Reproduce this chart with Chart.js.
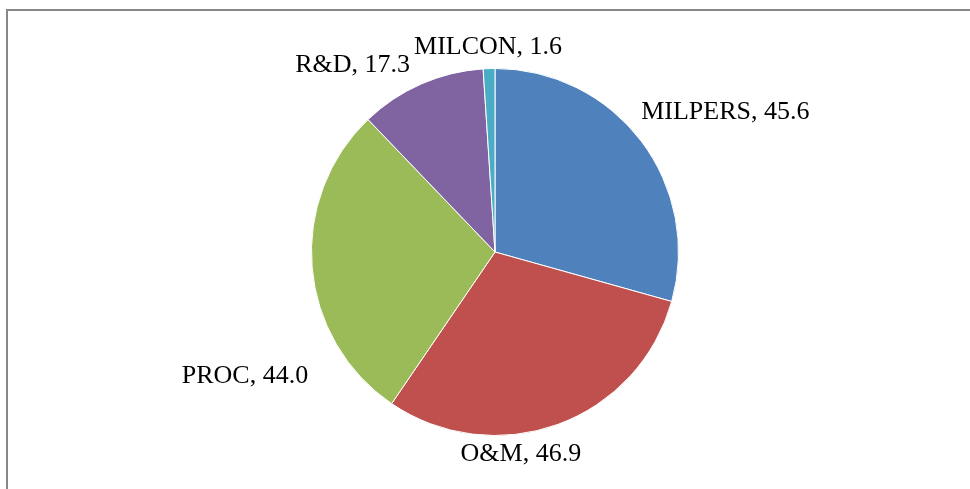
<!DOCTYPE html>
<html>
<head>
<meta charset="utf-8">
<script src="https://cdn.jsdelivr.net/npm/chart.js@4/dist/chart.umd.min.js"></script>
<style>
    html, body { margin: 0; padding: 0; background: #fff; }
    #wrap { position: relative; width: 970px; height: 489px; overflow: hidden; }
    #frame {
        position: absolute; left: 6px; top: 9px;
        width: 1000px; height: 600px;
        border: 2px solid #888888;
        box-sizing: border-box;
    }
    canvas { position: absolute; left: 0; top: 0; }
</style>
</head>
<body>
<div id="wrap">
    <div id="frame"></div>
    <canvas id="pieChart" width="970" height="489"></canvas>
</div>
<script>
// Datos del gráfico
const categories = ['MILPERS', 'O&M', 'PROC', 'R&D', 'MILCON'];
const values = [45.6, 46.9, 44.0, 17.3, 1.6];
const colors = ['#4F81BD', '#C0504D', '#9BBB59', '#8064A2', '#4BACC6'];

// Colocación de etiquetas (relativa al borde exterior de cada sector)
const labelPlacement = [
    { align: 'left',   dx: 0,   dy: -29 },
    { align: 'center', dx: -37, dy: 30 },
    { align: 'right',  dx: -4,  dy: 109 },
    { align: 'right',  dx: -11, dy: -19 },
    { align: 'center', dx: -1,  dy: -21 },
];

/**
 * Dibuja "Categoría, valor" junto a cada sector
 */
const outsideLabels = {
    id: 'outsideLabels',
    afterDatasetsDraw(chart) {
        const ctx = chart.ctx;
        const meta = chart.getDatasetMeta(0);
        ctx.save();
        ctx.font = '26px "Liberation Serif", "DejaVu Serif", serif';
        ctx.fillStyle = '#000';
        ctx.textBaseline = 'middle';
        meta.data.forEach((arc, i) => {
            const mid = (arc.startAngle + arc.endAngle) / 2;
            const x = arc.x + Math.cos(mid) * arc.outerRadius;
            const y = arc.y + Math.sin(mid) * arc.outerRadius;
            const p = labelPlacement[i];
            ctx.textAlign = p.align;
            ctx.fillText(categories[i] + ', ' + values[i].toFixed(1), x + p.dx, y + p.dy);
        });
        ctx.restore();
    },
};

new Chart(document.getElementById('pieChart'), {
    type: 'pie',
    data: {
        labels: categories,
        datasets: [{
            data: values,
            backgroundColor: colors,
            borderColor: '#fff',
            borderWidth: 1,
        }],
    },
    options: {
        responsive: false,
        animation: false,
        layout: {
            padding: { left: 311, right: 291, top: 68, bottom: 53 },
        },
        plugins: {
            legend: { display: false },
            tooltip: { enabled: false },
        },
    },
    plugins: [outsideLabels],
});
</script>
</body>
</html>
